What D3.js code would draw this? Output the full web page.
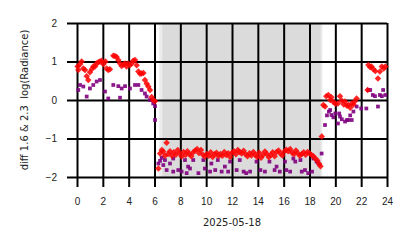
<!DOCTYPE html>
<html>
<head>
<meta charset="utf-8">
<script src="https://cdn.jsdelivr.net/npm/d3@7"></script>
<style>
  body { margin: 0; background: #fff; }
  svg { display: block; font-family: "DejaVu Sans", sans-serif; }
</style>
</head>
<body>
<div id="chart"></div>
<script>
// hours of the day and diff values
const redHours = [0.05, 0.1, 0.23, 0.36, 0.49, 0.62, 0.75, 0.87, 1.0, 1.14, 1.26, 1.4, 1.52, 1.65, 1.78, 1.9, 2.04, 2.2, 2.3, 2.42, 2.55,
  2.81, 2.94, 3.07, 3.2, 3.33, 3.46, 3.6, 3.72, 3.84, 3.96, 4.1, 4.23, 4.36, 4.49, 4.62, 4.75, 4.88, 5.0, 5.14, 5.26, 5.4, 5.52, 5.65, 5.78, 5.9, 6.04,
  6.3, 6.43, 6.56, 6.68, 6.81, 6.94, 7.05, 7.2, 7.35, 7.5, 7.65, 7.8, 7.95, 8.1, 8.25, 8.4, 8.55, 8.7, 8.85, 9.0, 9.15, 9.3, 9.45, 9.6, 9.75, 9.9,
  10.05, 10.2, 10.35, 10.5, 10.65, 10.8, 10.95, 11.1, 11.25, 11.4, 11.55, 11.7, 11.85, 12.0, 12.15, 12.3, 12.45, 12.6, 12.75, 12.9,
  13.05, 13.2, 13.35, 13.5, 13.65, 13.8, 13.95, 14.1, 14.25, 14.4, 14.55, 14.7, 14.85, 15.0, 15.15, 15.3, 15.45, 15.6, 15.75, 15.9,
  16.05, 16.2, 16.35, 16.5, 16.65, 16.8, 16.95, 17.1, 17.25, 17.4, 17.55, 17.7, 17.85, 18.0, 18.15, 18.3, 18.45, 18.6, 18.75, 18.85, 18.95,
  19.07, 19.2, 19.3, 19.46, 19.6, 19.7, 19.85, 20.0, 20.2, 20.36, 20.5, 20.65, 20.75, 20.9, 21.0, 21.15, 21.27, 21.4, 21.5, 21.65,
  22.5, 22.56, 22.7, 22.8, 22.95, 23.1, 23.3, 23.45, 23.6, 23.75, 23.87];
const redValues = [0.87, 0.78, 0.93, 1.0, 0.82, 0.78, 0.62, 0.52, 0.72, 0.8, 0.87, 0.87, 0.95, 0.98, 1.0, 1.02, 0.93, 1.0, 0.82, 0.78, 0.8,
  1.15, 1.14, 1.12, 1.04, 0.95, 0.88, 0.92, 0.95, 0.87, 0.95, 0.9, 0.95, 1.02, 1.04, 0.9, 0.74, 0.68, 0.69, 0.7, 0.52, 0.42, 0.35, 0.26, 0.08, 0.0, -0.03,
  -1.78, -1.39, -1.3, -1.34, -1.45, -1.11, -1.4, -1.33, -1.45, -1.36, -1.42, -1.3, -1.38, -1.47, -1.35, -1.43, -1.33, -1.4, -1.46, -1.36, -1.31, -1.27,
  -1.38, -1.3, -1.42, -1.47, -1.4, -1.45, -1.36, -1.48, -1.41, -1.37, -1.46, -1.4, -1.45, -1.35, -1.43, -1.38, -1.48, -1.37, -1.33, -1.41,
  -1.3, -1.35, -1.39, -1.32, -1.41, -1.46, -1.38, -1.44, -1.35, -1.42, -1.48, -1.37, -1.5, -1.43, -1.34, -1.4, -1.49, -1.43, -1.36,
  -1.46, -1.35, -1.31, -1.39, -1.44, -1.34, -1.29, -1.33, -1.27, -1.37, -1.41, -1.31, -1.38, -1.45, -1.4, -1.36, -1.42, -1.35, -1.38,
  -1.43, -1.46, -1.52, -1.57, -1.66, -1.72, -0.95,
  -0.13, -0.17, 0.1, 0.13, 0.0, 0.07, -0.05, -0.1, -0.09, 0.1, -0.02, -0.12, -0.04, -0.15, -0.13, -0.2, -0.09, -0.12, -0.04, 0.04,
  0.26, 0.91, 0.85, 0.87, 0.8, 0.75, 0.56, 0.74, 0.87, 0.82, 0.87];

const purpleHours = [0.1, 0.23, 0.49, 0.75, 1.0, 1.26, 1.52, 1.78, 2.17, 2.42, 2.81, 3.2, 3.33, 3.46, 3.72, 4.1, 4.49, 4.75, 5.0, 5.26, 5.39, 5.65, 5.9, 6.04, 6.04,
  6.3, 6.43, 6.56, 6.68, 6.81, 6.94, 7.2, 7.45, 7.45, 7.84, 8.1, 8.36, 8.49, 8.6, 8.75, 9.0, 9.4, 9.78, 9.9, 10.3, 10.4, 10.7, 10.9,
  11.2, 11.45, 11.7, 11.85, 12.36, 12.6, 12.9, 13.1, 13.4, 13.9, 14.2, 14.55, 14.9, 15.3, 15.45, 15.7, 16.1, 16.2, 16.5, 16.75, 16.9,
  17.3, 17.4, 17.65, 17.9, 18.2, 18.3, 18.55, 18.7, 18.94,
  19.2, 19.35, 19.5, 19.6, 19.7, 19.85, 20.0, 20.2, 20.3, 20.36, 20.5, 20.75, 20.9, 21.0, 21.15, 21.27, 21.4, 21.65, 22.0, 22.4,
  22.56, 22.7, 22.9, 23.07, 23.3, 23.45, 23.6, 23.7, 23.87];
const purpleValues = [0.26, 0.39, 0.35, 0.09, 0.3, 0.39, 0.48, 0.52, 0.22, 0.04, 0.39, 0.36, 0.06, 0.3, 0.36, 0.3, 0.39, 0.39, 0.26, 0.17, 0.09, 0.0, -0.09, -0.16, -0.52,
  -1.65, -1.58, -1.5, -1.69, -1.56, -1.82, -1.65, -1.52, -1.86, -1.82, -1.86, -1.56, -1.9, -1.73, -1.78, -1.56, -1.9, -1.56, -1.78, -1.86, -1.65, -1.82, -1.56,
  -1.86, -1.73, -1.86, -1.6, -1.82, -1.56, -1.86, -1.9, -1.86, -1.6, -1.82, -1.86, -1.6, -1.82, -1.73, -1.86, -1.6, -1.82, -1.86, -1.52, -1.6,
  -1.56, -1.86, -1.82, -1.9, -1.86, -1.52, -1.6, -1.65, -1.39,
  -0.65, -0.4, -0.3, -0.26, -0.39, -0.45, -0.35, -0.61, -0.35, -0.43, -0.5, -0.56, -0.52, -0.52, -0.4, -0.52, -0.3, -0.17, -0.22, -0.22,
  0.26, 0.26, 0.13, 0.1, -0.17, 0.13, 0.1, 0.26, 0.13];

// night shading (hours)
const nightStarts = [6.37, 6.6];
const nightEnds = [19.0, 18.87];

const xTicks = [0, 2, 4, 6, 8, 10, 12, 14, 16, 18, 20, 22, 24];
const yTicks = [-2, -1, 0, 1, 2];
const dateLabel = "2025-05-18";
const yLabel = "diff 1.6 & 2.3  log(Radiance)";

const W = 414, H = 248;
const margin = { top: 23, right: 27, bottom: 71, left: 77 };
const width = W - margin.left - margin.right;
const height = H - margin.top - margin.bottom;
const tickLen = 10;

const svg = d3.select("#chart").append("svg")
    .attr("width", W)
    .attr("height", H);

const g = svg.append("g")
    .attr("transform", `translate(${margin.left},${margin.top})`);

const x = d3.scaleLinear().domain([0, 24]).range([0, width]);
const y = d3.scaleLinear().domain([-2, 2]).range([height, 0]);

// shaded night
g.selectAll(".night")
    .data(nightStarts.map((s, i) => [s, nightEnds[i]]))
    .enter().append("rect")
    .attr("x", d => x(d[0]))
    .attr("width", d => x(d[1]) - x(d[0]))
    .attr("y", 0)
    .attr("height", height)
    .attr("fill", "#808080")
    .attr("fill-opacity", 0.15);

// grid lines with ticks sticking out
const xAxis = g.append("g")
    .attr("transform", `translate(0,${height + tickLen})`)
    .call(d3.axisBottom(x).tickValues(xTicks).tickFormat(d3.format("d"))
        .tickSizeInner(-(height + tickLen)).tickSizeOuter(0).tickPadding(10.5));

const yAxis = g.append("g")
    .attr("transform", `translate(${-tickLen},0)`)
    .call(d3.axisLeft(y).tickValues(yTicks).tickFormat(d3.format("d"))
        .tickSizeInner(-(width + tickLen)).tickSizeOuter(0).tickPadding(10));

[xAxis, yAxis].forEach(a => {
    a.select(".domain").remove();
    a.selectAll(".tick line").attr("stroke", "#000").attr("stroke-width", 2);
    a.selectAll(".tick text").attr("fill", "#222").style("font-size", "10px");
});

// points
const purple = purpleHours.map((h, i) => ({ h: h, v: purpleValues[i] }));
const red = redHours.map((h, i) => ({ h: h, v: redValues[i] }));

g.selectAll(".sq")
    .data(purple)
    .enter().append("path")
    .attr("d", d3.symbol(d3.symbolSquare, 14))
    .attr("transform", d => `translate(${x(d.h)},${y(d.v)})`)
    .attr("fill", "#800080")
    .attr("fill-opacity", 0.9);

g.selectAll(".dm")
    .data(red)
    .enter().append("path")
    .attr("d", d3.symbol(d3.symbolSquare, 21))
    .attr("transform", d => `translate(${x(d.h)},${y(d.v)}) rotate(45)`)
    .attr("fill", "#ff0000")
    .attr("fill-opacity", 0.85);

// labels
svg.append("text")
    .attr("x", margin.left + x(12))
    .attr("y", 226)
    .attr("text-anchor", "middle")
    .attr("fill", "#222")
    .style("font-size", "10px")
    .text(dateLabel);

svg.append("text")
    .attr("transform", `translate(28,${margin.top + height / 2}) rotate(-90)`)
    .attr("text-anchor", "middle")
    .attr("fill", "#222")
    .style("font-size", "10px")
    .style("white-space", "pre")
    .text(yLabel);
</script>
</body>
</html>
